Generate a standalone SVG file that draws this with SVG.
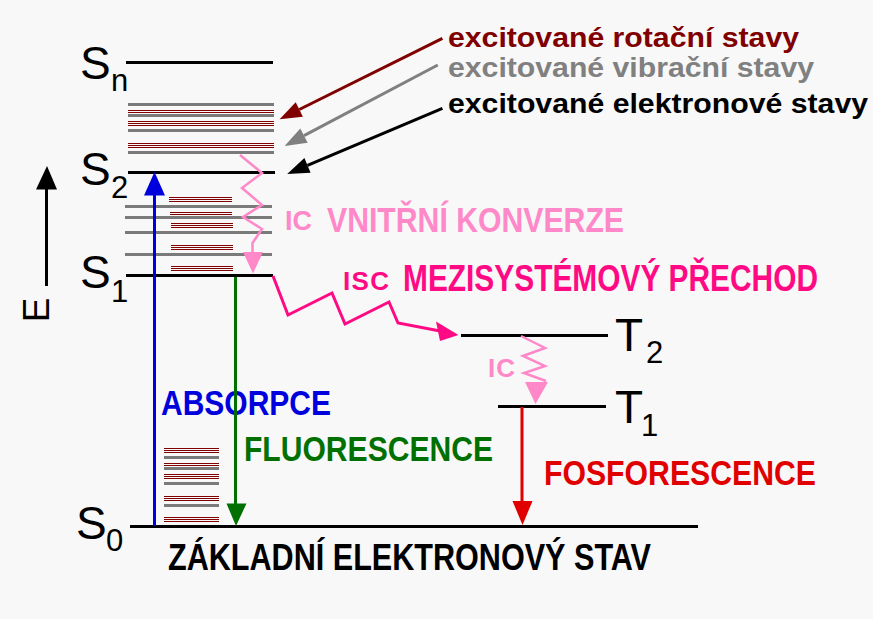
<svg xmlns="http://www.w3.org/2000/svg" width="873" height="619" viewBox="0 0 873 619">
<style>
.bg{fill:#f8f8f8}
.lvl{stroke:#000;stroke-width:3}
.vib{stroke:#7a7a7a;stroke-width:3}
.rot{stroke:#800000;stroke-width:1}
.st{font-family:"Liberation Sans",Arial,sans-serif;font-size:46px;fill:#000}
.sub{font-family:"Liberation Sans",Arial,sans-serif;font-size:31px;fill:#000}
.lbl{font-family:"Liberation Sans",Arial,sans-serif;font-weight:bold}
.wave{fill:none;stroke-linejoin:miter}
</style>
<rect class="bg" x="0" y="0" width="873" height="619"/>

<g id="energy-axis">
<line x1="46.5" y1="189" x2="46.5" y2="286" stroke="#000" stroke-width="3"/>
<polygon points="36,189.5 57,189.5 47,166" fill="#000"/>
<text transform="translate(49,310) rotate(-90)" text-anchor="middle" font-family="Liberation Sans,Arial,sans-serif" font-size="37" fill="#000">E</text>
</g>

<g id="Sn">
<line class="lvl" x1="126" y1="62.5" x2="273" y2="62.5"/>
<text class="st" x="80" y="79">S</text><text class="sub" x="111" y="91">n</text>
</g>

<g id="upper-sublevels">
<line class="vib" x1="128" y1="104.5" x2="274" y2="104.5"/>
<line class="rot" x1="128" y1="110.5" x2="274" y2="110.5"/>
<line class="rot" x1="128" y1="112.5" x2="274" y2="112.5"/>
<line class="vib" x1="128" y1="115.5" x2="274" y2="115.5"/>
<line class="rot" x1="128" y1="121.5" x2="274" y2="121.5"/>
<line class="rot" x1="128" y1="123.5" x2="274" y2="123.5"/>
<line class="rot" x1="128" y1="125.5" x2="274" y2="125.5"/>
<line class="vib" x1="128" y1="130.5" x2="274" y2="130.5"/>
<line class="rot" x1="128" y1="143.5" x2="274" y2="143.5"/>
<line class="rot" x1="128" y1="145.5" x2="274" y2="145.5"/>
<line class="rot" x1="128" y1="147.5" x2="274" y2="147.5"/>
<line class="vib" x1="128" y1="152.5" x2="274" y2="152.5"/>
</g>

<g id="S2">
<line class="lvl" x1="128" y1="172.5" x2="275" y2="172.5"/>
<text class="st" x="80" y="185">S</text><text class="sub" x="111" y="198">2</text>
</g>

<g id="middle-sublevels">
<line class="rot" x1="169" y1="197.5" x2="232" y2="197.5"/>
<line class="rot" x1="169" y1="199.5" x2="232" y2="199.5"/>
<line class="rot" x1="169" y1="201.5" x2="232" y2="201.5"/>
<line class="vib" x1="125" y1="206.5" x2="272" y2="206.5"/>
<line class="rot" x1="170" y1="212.5" x2="232" y2="212.5"/>
<line class="rot" x1="170" y1="214.5" x2="232" y2="214.5"/>
<line class="vib" x1="125" y1="217.5" x2="272" y2="217.5"/>
<line class="rot" x1="171" y1="223.5" x2="233" y2="223.5"/>
<line class="rot" x1="171" y1="225.5" x2="233" y2="225.5"/>
<line class="rot" x1="171" y1="227.5" x2="233" y2="227.5"/>
<line class="vib" x1="125" y1="232.5" x2="272" y2="232.5"/>
<line class="rot" x1="171" y1="245.5" x2="233" y2="245.5"/>
<line class="rot" x1="171" y1="247.5" x2="233" y2="247.5"/>
<line class="rot" x1="171" y1="249.5" x2="233" y2="249.5"/>
<line class="vib" x1="125" y1="254.5" x2="272" y2="254.5"/>
<line class="rot" x1="171" y1="266.5" x2="233" y2="266.5"/>
<line class="rot" x1="171" y1="268.5" x2="233" y2="268.5"/>
<line class="rot" x1="171" y1="270.5" x2="233" y2="270.5"/>
</g>

<g id="S1">
<line class="lvl" x1="126" y1="275.5" x2="273" y2="275.5"/>
<text class="st" x="80" y="288">S</text><text class="sub" x="111" y="302">1</text>
</g>

<g id="ground-sublevels">
<line class="rot" x1="164" y1="448.5" x2="219" y2="448.5"/>
<line class="rot" x1="164" y1="450.5" x2="219" y2="450.5"/>
<line class="rot" x1="164" y1="452.5" x2="219" y2="452.5"/>
<line class="vib" x1="164" y1="457.5" x2="219" y2="457.5"/>
<line class="rot" x1="164" y1="463.5" x2="219" y2="463.5"/>
<line class="rot" x1="164" y1="465.5" x2="219" y2="465.5"/>
<line class="vib" x1="164" y1="468.5" x2="219" y2="468.5"/>
<line class="rot" x1="164" y1="474.5" x2="219" y2="474.5"/>
<line class="rot" x1="164" y1="476.5" x2="219" y2="476.5"/>
<line class="rot" x1="164" y1="478.5" x2="219" y2="478.5"/>
<line class="vib" x1="164" y1="483.5" x2="219" y2="483.5"/>
<line class="rot" x1="164" y1="496.5" x2="219" y2="496.5"/>
<line class="rot" x1="164" y1="498.5" x2="219" y2="498.5"/>
<line class="rot" x1="164" y1="500.5" x2="219" y2="500.5"/>
<line class="vib" x1="164" y1="505.5" x2="219" y2="505.5"/>
<line class="rot" x1="164" y1="517.5" x2="219" y2="517.5"/>
<line class="rot" x1="164" y1="519.5" x2="219" y2="519.5"/>
<line class="rot" x1="164" y1="521.5" x2="219" y2="521.5"/>
</g>

<g id="S0">
<line class="lvl" x1="130" y1="526.5" x2="698" y2="526.5"/>
<text class="st" x="76" y="539">S</text><text class="sub" x="106" y="551">0</text>
<text class="lbl" x="168" y="570" font-size="36" textLength="483" lengthAdjust="spacingAndGlyphs" fill="#000">ZÁKLADNÍ ELEKTRONOVÝ STAV</text>
</g>

<g id="T2">
<line class="lvl" x1="461" y1="335.5" x2="608" y2="335.5"/>
<text class="st" x="615" y="351">T</text><text class="sub" x="646" y="363">2</text>
</g>

<g id="T1">
<line class="lvl" x1="498" y1="406.5" x2="606" y2="406.5"/>
<text class="st" x="615" y="423">T</text><text class="sub" x="641" y="436">1</text>
</g>

<g id="legend">
<text class="lbl" x="448" y="47" font-size="28" textLength="351" lengthAdjust="spacingAndGlyphs" fill="#800000">excitované rotační stavy</text>
<text class="lbl" x="448" y="77" font-size="28" textLength="366" lengthAdjust="spacingAndGlyphs" fill="#808080">excitované vibrační stavy</text>
<text class="lbl" x="448" y="113" font-size="28" textLength="420" lengthAdjust="spacingAndGlyphs" fill="#000">excitované elektronové stavy</text>
</g>

<g id="labels">
<text class="lbl" x="161" y="415" font-size="35" textLength="170" lengthAdjust="spacingAndGlyphs" fill="#0000dd">ABSORPCE</text>
<text class="lbl" x="244" y="461" font-size="35" textLength="249" lengthAdjust="spacingAndGlyphs" fill="#007000">FLUORESCENCE</text>
<text class="lbl" x="544" y="485" font-size="35" textLength="272" lengthAdjust="spacingAndGlyphs" fill="#e00000">FOSFORESCENCE</text>
<text class="lbl" x="285" y="230" font-size="27" textLength="27" lengthAdjust="spacing" fill="#ff88c8">IC</text>
<text class="lbl" x="327" y="232" font-size="35" textLength="297" lengthAdjust="spacingAndGlyphs" fill="#ff88c8">VNITŘNÍ KONVERZE</text>
<text class="lbl" x="343" y="290" font-size="26" textLength="46" lengthAdjust="spacing" fill="#ff0a84">ISC</text>
<text class="lbl" x="403" y="291" font-size="36" textLength="415" lengthAdjust="spacingAndGlyphs" fill="#ff0a84">MEZISYSTÉMOVÝ PŘECHOD</text>
<text class="lbl" x="488" y="377" font-size="26" textLength="27" lengthAdjust="spacing" fill="#ff88c8">IC</text>
</g>

<g id="connectors">
<line x1="442.4" y1="38.3" x2="299.3" y2="109.5" stroke="#800000" stroke-width="3"/>
<polygon points="279.6,119.3 302.9,116.7 295.7,102.3" fill="#800000"/>
<line x1="437.8" y1="65" x2="304" y2="135.7" stroke="#808080" stroke-width="3"/>
<polygon points="284.6,146 307.7,142.8 300.3,128.6" fill="#808080"/>
<line x1="442.4" y1="108.3" x2="307.5" y2="165.4" stroke="#000" stroke-width="3"/>
<polygon points="287.2,174 310.6,172.8 304.4,158" fill="#000"/>

<line x1="154.5" y1="526" x2="154.5" y2="194" stroke="#0000dd" stroke-width="3"/>
<polygon points="144,195.5 165,195.5 154.5,172" fill="#0000dd"/>

<line x1="235.5" y1="277" x2="235.5" y2="506" stroke="#007000" stroke-width="3"/>
<polygon points="226.5,503.5 246.5,503.5 236,526" fill="#007000"/>

<line x1="522" y1="407" x2="522" y2="503" stroke="#e00000" stroke-width="3"/>
<polygon points="512.5,501 532.5,501 522.5,525" fill="#e00000"/>

<polyline class="wave" points="240,155 262,173 242,188 262,205 243,217 262,229 252.5,243 252.5,254" stroke="#ff88c8" stroke-width="2.5"/>
<polygon points="243,252 263,252 253,273.5" fill="#ff88c8"/>

<polyline class="wave" points="273,276 288,315 332,293 345,324 389,302 398,323 440,331" stroke="#ff0a84" stroke-width="3"/>
<polygon points="436,321.5 440,341 458.5,335" fill="#ff0a84"/>

<polyline class="wave" points="521,336 545,348 523,356 545,366 524,373 546,381" stroke="#ff88c8" stroke-width="2.5"/>
<polygon points="525,382 548,382 535.5,404" fill="#ff88c8"/>
</g>
</svg>
